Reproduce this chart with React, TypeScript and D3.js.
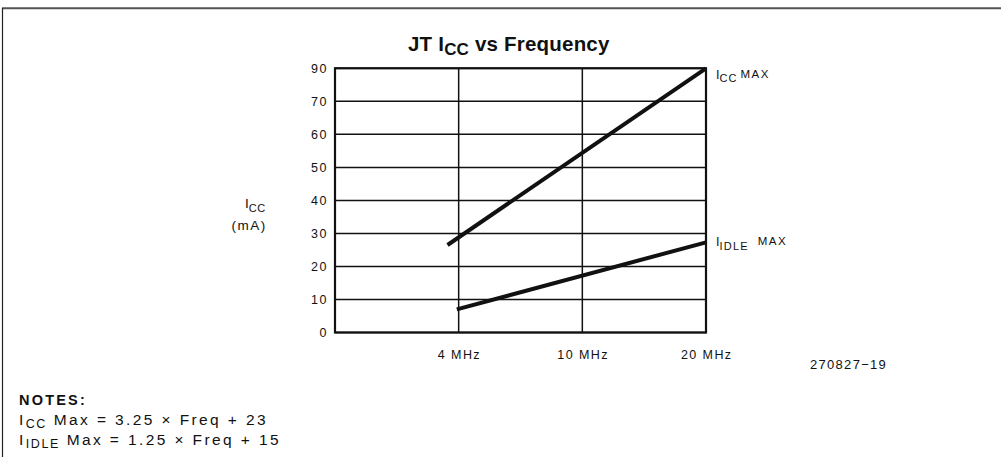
import React from "react";
import * as d3 from "d3";

// ---- data ----
const xCategories = ["4 MHz", "10 MHz", "20 MHz"]; // at frequency positions 1, 2, 3
const xCategoryPos = [1, 2, 3];
const yTickValues = [0, 10, 20, 30, 40, 50, 60, 70, 90];
const iccFreqPos = [0.91, 3];
const iccValues = [26.5, 90];
const idleFreqPos = [0.985, 3];
const idleValues = [7, 27.3];

const W = 1001;
const H = 457;
const FONT = "'Liberation Sans', Arial, Helvetica, sans-serif";

export default function App() {
  const left = 335, right = 706, top = 68.3, bottom = 332.5;
  const x = d3.scaleLinear().domain([0, 3]).range([left, right]);
  const n = yTickValues.length;
  const y = d3
    .scaleLinear()
    .domain(yTickValues)
    .range(yTickValues.map((_, i) => bottom + ((top - bottom) * i) / (n - 1)));

  const line = d3
    .line<[number, number]>()
    .x((d) => x(d[0]))
    .y((d) => y(d[1]));

  const iccPts = iccFreqPos.map((f, i) => [f, iccValues[i]] as [number, number]);
  const idlePts = idleFreqPos.map((f, i) => [f, idleValues[i]] as [number, number]);

  return (
    <svg
      width={W}
      height={H}
      style={{ position: "absolute", left: 0, top: 0, background: "#fff" }}
      fontFamily={FONT}
    >
      <rect x={0} y={0} width={W} height={H} fill="#fff" />
      {/* page frame */}
      <line x1={2} y1={8.3} x2={W} y2={8.3} stroke="#555" strokeWidth={2} />
      <line x1={2.5} y1={8} x2={2.5} y2={H} stroke="#222" strokeWidth={1.2} />

      {/* title */}
      <text x={408} y={51} fontSize={20.5} fontWeight="bold" letterSpacing={0.2} fill="#111">
        JT I
        <tspan fontSize={17} dy={3.5}>CC</tspan>
        <tspan dy={-3.5}> vs Frequency</tspan>
      </text>

      {/* horizontal gridlines */}
      {yTickValues.map((v) => (
        <line key={"h" + v} x1={left} x2={right} y1={y(v)} y2={y(v)} stroke="#111" strokeWidth={1.5} />
      ))}
      {/* vertical gridlines */}
      {xCategoryPos.slice(0, 2).map((p) => (
        <line key={"v" + p} x1={x(p)} x2={x(p)} y1={top} y2={bottom} stroke="#111" strokeWidth={1.5} />
      ))}
      {/* plot frame */}
      <rect x={left} y={top} width={right - left} height={bottom - top} fill="none" stroke="#111" strokeWidth={2.2} />

      {/* y tick labels */}
      {yTickValues.map((v) => (
        <text key={"t" + v} x={328} y={y(v) + 4.5} fontSize={12.5} letterSpacing={1.5} textAnchor="end" fill="#111">
          {v}
        </text>
      ))}
      {/* x tick labels */}
      {xCategories.map((c, i) => (
        <text key={c} x={x(xCategoryPos[i]) + 0.75} y={359} fontSize={12.5} letterSpacing={1.4} textAnchor="middle" fill="#111">
          {c}
        </text>
      ))}

      {/* y axis label */}
      <text x={245} y={208} fontSize={13.5} fill="#111">
        I<tspan fontSize={11} dy={3.5} letterSpacing={0.5}>CC</tspan>
      </text>
      <text x={231.5} y={229.5} fontSize={13.5} letterSpacing={1.5} fill="#111">
        (mA)
      </text>

      {/* data lines */}
      <path d={line(iccPts) || ""} fill="none" stroke="#111" strokeWidth={4} strokeLinecap="butt" />
      <path d={line(idlePts) || ""} fill="none" stroke="#111" strokeWidth={4} strokeLinecap="butt" />

      {/* line labels */}
      <text x={716} y={79} fontSize={12.5} fill="#111">
        I<tspan fontSize={11} dy={2.5} letterSpacing={1}>CC</tspan>
        <tspan dy={-3.5} dx={3} fontSize={11.5} letterSpacing={1.5}>MAX</tspan>
      </text>
      <text x={716} y={246} fontSize={12.5} fill="#111">
        I<tspan fontSize={11} dy={3.5} letterSpacing={1.2}>IDLE</tspan>
        <tspan dy={-4.5} dx={9} fontSize={11.5} letterSpacing={1.5}>MAX</tspan>
      </text>

      {/* figure id */}
      <text x={810} y={368.5} fontSize={13} letterSpacing={1.3} fill="#111">
        270827−19
      </text>

      {/* notes */}
      <text x={19} y={404.5} fontSize={14.5} fontWeight="bold" letterSpacing={2.2} fill="#111">
        NOTES:
      </text>
      <text x={19} y={424.5} fontSize={15.5} letterSpacing={2.4} fill="#111">
        I<tspan fontSize={12.5} dy={3} letterSpacing={1.6}>CC</tspan>
        <tspan dy={-3}> Max = 3.25 × Freq + 23</tspan>
      </text>
      <text x={19} y={444.5} fontSize={15.5} letterSpacing={2.4} fill="#111">
        I<tspan fontSize={12.5} dy={3} letterSpacing={1.6}>IDLE</tspan>
        <tspan dy={-3}> Max = 1.25 × Freq + 15</tspan>
      </text>
    </svg>
  );
}
